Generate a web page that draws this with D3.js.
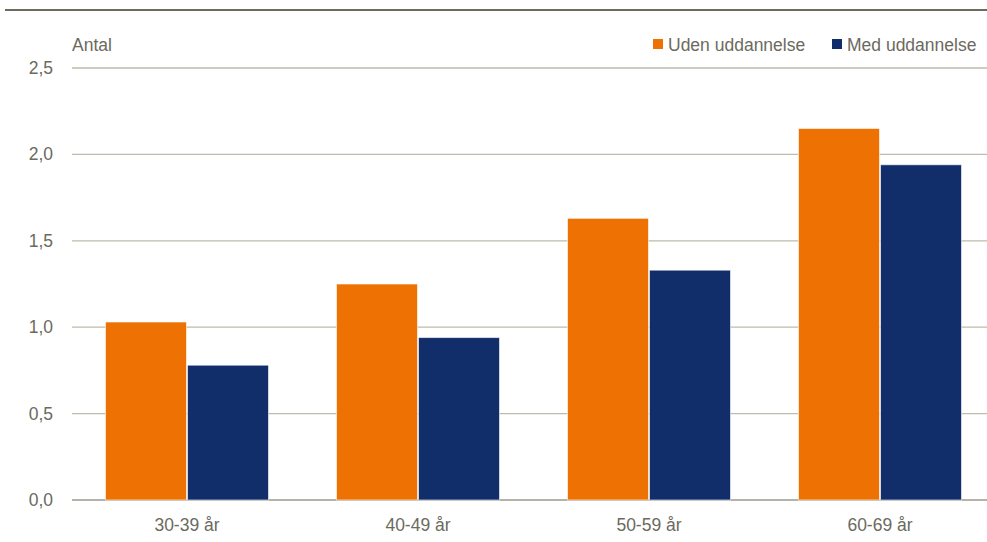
<!DOCTYPE html>
<html>
<head>
<meta charset="utf-8">
<script src="https://cdn.jsdelivr.net/npm/d3@7"></script>
<style>
  body { margin: 0; background: #fff; }
  text { font-family: "Liberation Sans Narrow", "Arial Narrow", "Liberation Sans", sans-serif; fill: #6b6a5e; }
</style>
</head>
<body>
<svg width="987" height="542"></svg>
<script>
var categories = ["30-39 år", "40-49 år", "50-59 år", "60-69 år"];
var seriesNames = ["Uden uddannelse", "Med uddannelse"];
var udenValues = [1.03, 1.25, 1.63, 2.15];
var medValues = [0.78, 0.94, 1.33, 1.94];
var yTicks = [0, 0.5, 1.0, 1.5, 2.0, 2.5];
var colors = ["#ee7203", "#112e6a"];

var svg = d3.select("svg");

// top rule
svg.append("line")
    .attr("x1", 5).attr("x2", 987)
    .attr("y1", 10).attr("y2", 10)
    .style("stroke", "#6e6b5e")
    .style("stroke-width", 2);

var x0 = d3.scaleBand().domain(categories).range([71.5, 995.5]).paddingInner(0.29).paddingOuter(0.145);
var x1 = d3.scaleBand().domain(seriesNames).range([0, x0.bandwidth()]).padding(0);
var y = d3.scaleLinear().domain([0, 2.5]).range([500, 68]);

// gridlines
svg.append("g").selectAll("line")
    .data(yTicks)
    .join("line")
    .attr("x1", 72).attr("x2", 987)
    .attr("y1", d => y(d)).attr("y2", d => y(d))
    .style("stroke", d => d === 0 ? "#9d9a8c" : "#bdbcaa")
    .style("stroke-width", 1.3);

// y labels
svg.append("g").selectAll("text")
    .data(yTicks)
    .join("text")
    .attr("x", 53)
    .attr("y", d => y(d) + 6)
    .attr("text-anchor", "end")
    .style("font-size", "17.5px")
    .text(d => d3.format(".1f")(d).replace(".", ","));

svg.append("text")
    .attr("x", 72).attr("y", 51)
    .style("font-size", "17.5px")
    .text("Antal");

// bars
var rows = categories.map((c, i) => ({ cat: c, vals: [udenValues[i], medValues[i]] }));
var groups = svg.append("g").selectAll("g")
    .data(rows)
    .join("g")
    .attr("transform", d => "translate(" + x0(d.cat) + ",0)");

groups.selectAll("rect")
    .data(d => d.vals.map((v, j) => ({ name: seriesNames[j], v: v, j: j })))
    .join("rect")
    .attr("x", d => x1(d.name) + 0.5)
    .attr("width", x1.bandwidth() - 1)
    .attr("y", d => y(d.v))
    .attr("height", d => y(0) - y(d.v))
    .style("fill", d => colors[d.j])
    .style("stroke", "#ffffff")
    .style("stroke-opacity", 0.6)
    .style("stroke-width", 1);

// x labels
svg.append("g").selectAll("text")
    .data(categories)
    .join("text")
    .attr("x", d => x0(d) + x0.bandwidth() / 2)
    .attr("y", 531)
    .attr("text-anchor", "middle")
    .style("font-size", "17.5px")
    .text(d => d);

// legend
var legendX = [653, 832];
var legend = svg.append("g").selectAll("g")
    .data(seriesNames)
    .join("g")
    .attr("transform", (d, i) => "translate(" + legendX[i] + ",0)");
legend.append("rect")
    .attr("x", 0).attr("y", 39)
    .attr("width", 10).attr("height", 10)
    .style("fill", (d, i) => colors[i]);
legend.append("text")
    .attr("x", 15).attr("y", 51)
    .style("font-size", "17.5px")
    .text(d => d);
</script>
</body>
</html>
